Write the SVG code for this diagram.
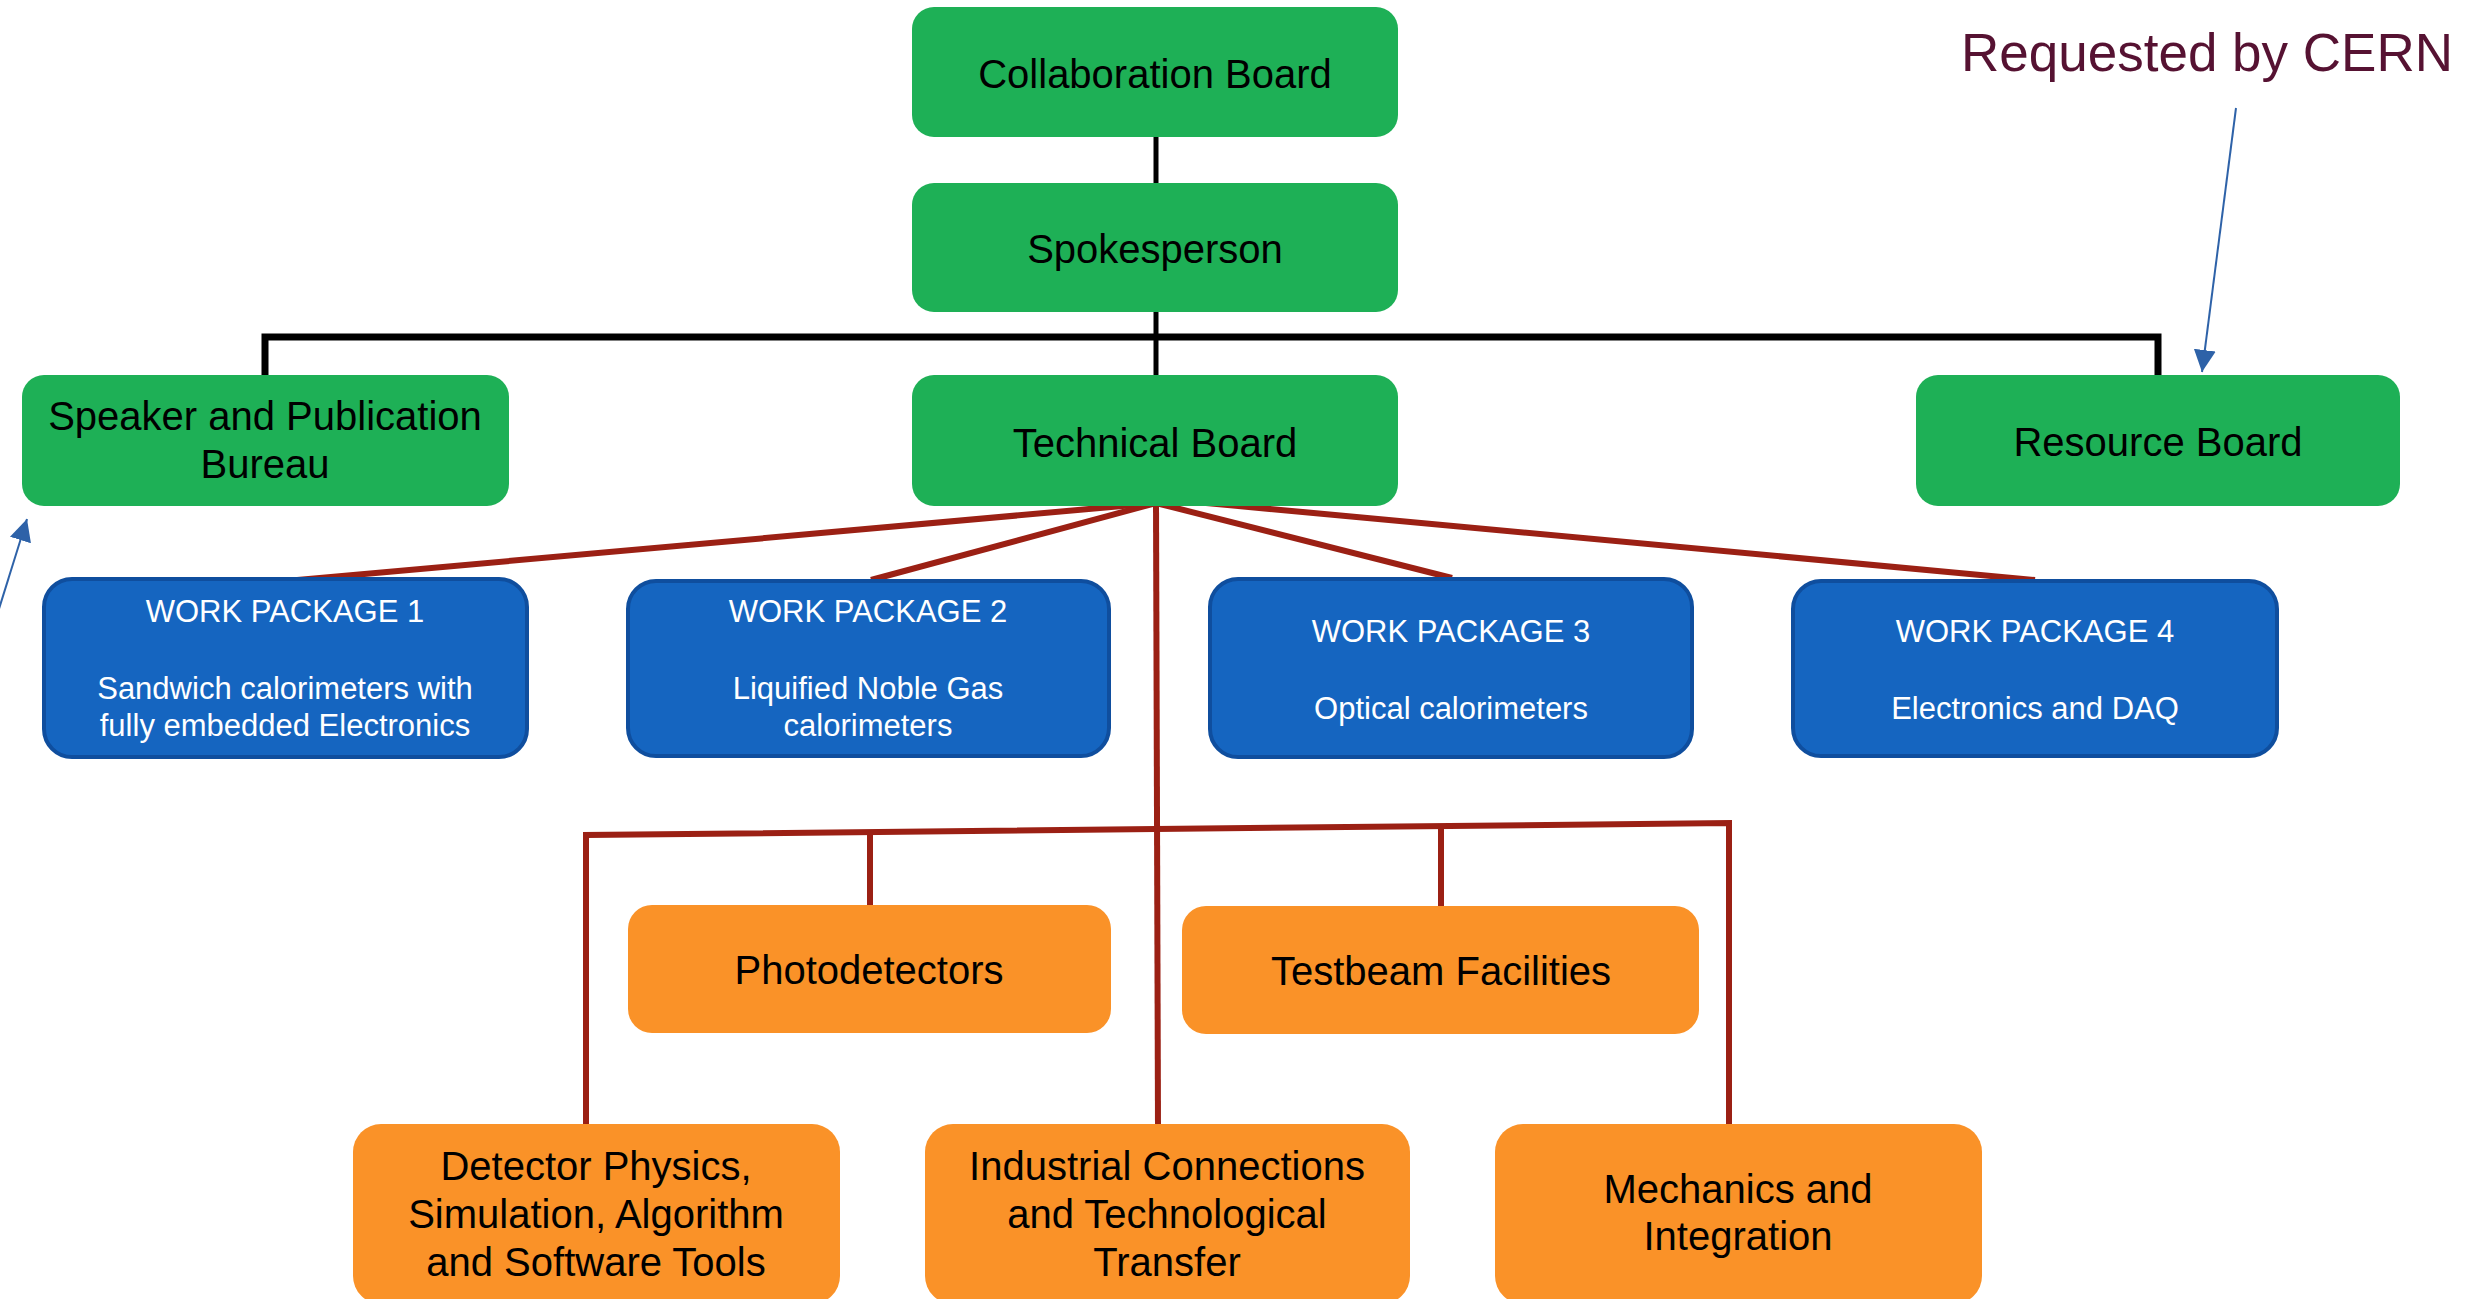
<svg xmlns="http://www.w3.org/2000/svg" width="2485" height="1299" viewBox="0 0 2485 1299">
<style>
.g{fill:#1eb056}
.b{fill:#1565c0;stroke:#0f4e9e;stroke-width:4}
.o{fill:#fa9228}
.t{font-family:"Liberation Sans",Arial,sans-serif;font-size:40px;fill:#000;text-anchor:middle}
.w{font-family:"Liberation Sans",Arial,sans-serif;font-size:31px;fill:#fff;text-anchor:middle}
.k{stroke:#000;fill:none;stroke-linejoin:miter}
.r{stroke:#9b2014;fill:none;stroke-width:6}
.a{stroke:#2e62a8;stroke-width:2;fill:none}
</style>
<defs>
<marker id="ah" viewBox="0 0 10 10" refX="10" refY="5" markerWidth="22" markerHeight="22" markerUnits="userSpaceOnUse" orient="auto">
<path d="M0,0 L10,5 L0,10 Z" fill="#2e62a8"/>
</marker>
</defs>
<rect width="2485" height="1299" fill="#fff"/>
<g id="connectors">
<line class="k" x1="1156" y1="137" x2="1156" y2="183" stroke-width="5"/>
<line class="k" x1="1156" y1="312" x2="1156" y2="376" stroke-width="5"/>
<polyline class="k" points="265,377 265,337 2158,337 2158,377" stroke-width="7"/>
<line class="r" x1="1156" y1="503" x2="286" y2="581"/>
<line class="r" x1="1156" y1="503" x2="871" y2="580"/>
<line class="r" x1="1156" y1="503" x2="1452" y2="578"/>
<line class="r" x1="1206" y1="503" x2="2035" y2="580"/>
<line class="r" x1="1156" y1="503" x2="1158" y2="1126" stroke-width="5"/>
<polyline class="r" points="586,1126 586,835 1729,823 1729,1126" stroke-width="5"/>
<line class="r" x1="870" y1="832" x2="870" y2="906" stroke-width="5"/>
<line class="r" x1="1441" y1="826" x2="1441" y2="906" stroke-width="5"/>
<line class="a" x1="2236" y1="108" x2="2202" y2="372" marker-end="url(#ah)"/>
<line class="a" x1="-2" y1="612" x2="27" y2="519" marker-end="url(#ah)"/>
</g>
<g id="collaboration-board"><rect class="g" x="912" y="7" width="486" height="130" rx="22"/><text class="t" x="1155" y="88">Collaboration Board</text></g>
<g id="spokesperson"><rect class="g" x="912" y="183" width="486" height="129" rx="22"/><text class="t" x="1155" y="263">Spokesperson</text></g>
<g id="speaker-bureau"><rect class="g" x="22" y="375" width="487" height="131" rx="22"/><text class="t" x="265" y="430">Speaker and Publication</text><text class="t" x="265" y="478">Bureau</text></g>
<g id="technical-board"><rect class="g" x="912" y="375" width="486" height="131" rx="22"/><text class="t" x="1155" y="457">Technical Board</text></g>
<g id="resource-board"><rect class="g" x="1916" y="375" width="484" height="131" rx="22"/><text class="t" x="2158" y="456">Resource Board</text></g>
<g id="note"><text x="2207" y="71" font-family="Liberation Sans,Arial,sans-serif" font-size="53" fill="#561232" text-anchor="middle">Requested by CERN</text></g>
<g id="wp1"><rect class="b" x="44" y="579" width="483" height="178" rx="28"/><text class="w" x="285" y="622">WORK PACKAGE 1</text><text class="w" x="285" y="699">Sandwich calorimeters with</text><text class="w" x="285" y="736">fully embedded Electronics</text></g>
<g id="wp2"><rect class="b" x="628" y="581" width="481" height="175" rx="28"/><text class="w" x="868" y="622">WORK PACKAGE 2</text><text class="w" x="868" y="699">Liquified Noble Gas</text><text class="w" x="868" y="736">calorimeters</text></g>
<g id="wp3"><rect class="b" x="1210" y="579" width="482" height="178" rx="28"/><text class="w" x="1451" y="642">WORK PACKAGE 3</text><text class="w" x="1451" y="719">Optical calorimeters</text></g>
<g id="wp4"><rect class="b" x="1793" y="581" width="484" height="175" rx="28"/><text class="w" x="2035" y="642">WORK PACKAGE 4</text><text class="w" x="2035" y="719">Electronics and DAQ</text></g>
<g id="photodetectors"><rect class="o" x="628" y="905" width="483" height="128" rx="24"/><text class="t" x="869" y="984">Photodetectors</text></g>
<g id="testbeam"><rect class="o" x="1182" y="906" width="517" height="128" rx="24"/><text class="t" x="1441" y="985">Testbeam Facilities</text></g>
<g id="detector-physics"><rect class="o" x="353" y="1124" width="487" height="180" rx="28"/><text class="t" x="596" y="1180">Detector Physics,</text><text class="t" x="596" y="1228">Simulation, Algorithm</text><text class="t" x="596" y="1276">and Software Tools</text></g>
<g id="industrial"><rect class="o" x="925" y="1124" width="485" height="180" rx="28"/><text class="t" x="1167" y="1180">Industrial Connections</text><text class="t" x="1167" y="1228">and Technological</text><text class="t" x="1167" y="1276">Transfer</text></g>
<g id="mechanics"><rect class="o" x="1495" y="1124" width="487" height="180" rx="28"/><text class="t" x="1738" y="1203">Mechanics and</text><text class="t" x="1738" y="1250">Integration</text></g>
</svg>
